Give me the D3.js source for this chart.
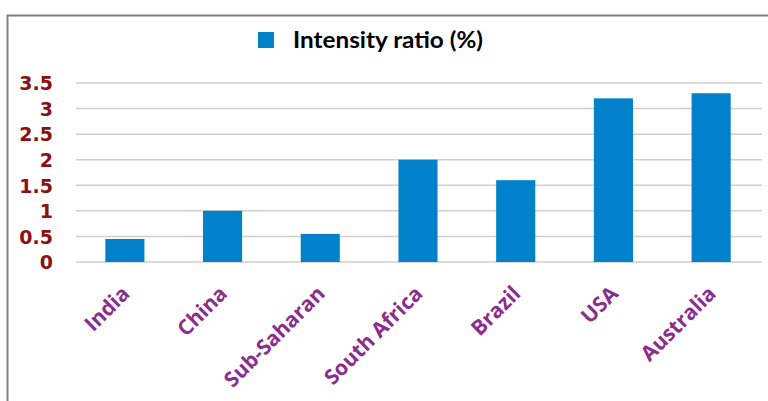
<!DOCTYPE html>
<html>
<head>
<meta charset="utf-8">
<script src="https://cdn.jsdelivr.net/npm/d3@7"></script>
<style>
  html, body { margin: 0; padding: 0; background: #fff; }
  svg { display: block; }
</style>
</head>
<body>
<svg id="chart"></svg>
<script>
const categories = ['India', 'China', 'Sub-Saharan', 'South Africa', 'Brazil', 'USA', 'Australia'];
const intensityRatio = [0.45, 1.0, 0.55, 2.0, 1.6, 3.2, 3.3];
const yTicks = [0, 0.5, 1, 1.5, 2, 2.5, 3, 3.5];
const seriesName = 'Intensity ratio (%)';

const width = 768;
const height = 401;

const svg = d3.select('#chart')
  .attr('width', width)
  .attr('height', height)
  .attr('viewBox', `0 0 ${width} ${height}`);

// chart frame (runs off the right/bottom edge like the screenshot)
svg.append('rect')
  .attr('x', 7.5)
  .attr('y', 15.5)
  .attr('width', width + 20)
  .attr('height', height + 20)
  .attr('fill', '#fff')
  .attr('stroke', '#808080')
  .attr('stroke-width', 2);

const x = d3.scaleBand()
  .domain(categories)
  .range([76, 760])
  .paddingInner(0.6)
  .paddingOuter(0.3);

const y = d3.scaleLinear()
  .domain([0, 3.5])
  .range([262, 83]);

// gridlines
svg.append('g')
  .selectAll('line')
  .data(yTicks)
  .join('line')
  .attr('x1', 76)
  .attr('x2', 762)
  .attr('y1', d => y(d))
  .attr('y2', d => y(d))
  .attr('stroke', '#cfcfcf')
  .attr('stroke-width', 1.5);

// y labels
svg.append('g')
  .selectAll('text')
  .data(yTicks)
  .join('text')
  .attr('x', 53)
  .attr('y', d => y(d))
  .attr('dy', '0.38em')
  .attr('text-anchor', 'end')
  .style('font-family', '"DejaVu Sans"')
  .style('font-weight', 'bold')
  .style('font-size', '19px')
  .style('fill', '#8E0F0F')
  .text(d => d);

// bars
svg.append('g')
  .selectAll('rect')
  .data(intensityRatio)
  .join('rect')
  .attr('x', (d, i) => x(categories[i]))
  .attr('width', x.bandwidth())
  .attr('y', d => y(d))
  .attr('height', d => y(0) - y(d))
  .attr('fill', '#0081C9');

// x labels, rotated
svg.append('g')
  .selectAll('text')
  .data(categories)
  .join('text')
  .attr('transform', d => `translate(${x(d) + x.bandwidth() / 2 + 6},${295}) rotate(-45)`)
  .attr('text-anchor', 'end')
  .style('font-family', '"Open Sans"')
  .style('font-weight', 'bold')
  .style('font-size', '21px')
  .style('fill', '#8B2C8F')
  .text(d => d);

// legend
svg.append('rect')
  .attr('x', 258)
  .attr('y', 32)
  .attr('width', 16)
  .attr('height', 16)
  .attr('fill', '#0081C9');

svg.append('text')
  .attr('x', 293)
  .attr('y', 48)
  .attr('textLength', 190)
  .attr('lengthAdjust', 'spacingAndGlyphs')
  .style('font-family', 'Lato')
  .style('font-weight', 'bold')
  .style('font-size', '23px')
  .style('fill', '#000')
  .text(seriesName);
</script>
</body>
</html>
